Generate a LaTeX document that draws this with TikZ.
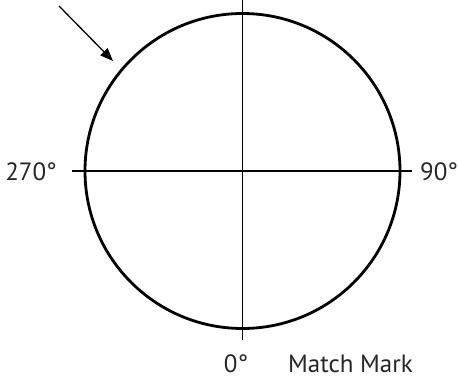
\documentclass[tikz,border=0pt]{standalone}
\usepackage{fontspec}
\setmainfont{PT Sans}
\usetikzlibrary{arrows.meta,positioning}

\begin{document}
\begin{tikzpicture}[x=1pt, y=1pt,
    font=\fontsize{25}{30}\selectfont,
    >={Triangle[length=13pt, width=10pt]},
    rim/.style={draw, black, line width=2.8pt},
    axis/.style={draw, black, line width=1.8pt},
    pointer/.style={->, draw, black, line width=1.3pt},
    lbl/.style={inner sep=0pt, text=black!85}]

\useasboundingbox (0,0) rectangle (458,378);

\coordinate (ctr) at (242.5,207);
\coordinate (top) at (242.5,378);
\coordinate (bot) at (242.5,38);
\coordinate (lft) at (72,207);
\coordinate (rgt) at (412,207);
\coordinate (tail) at (59,372);
\coordinate (hit) at (113,317);

\draw [rim] (ctr) circle (157.5);
\draw [axis] (top) -- (bot);
\draw [axis] (lft) -- (rgt);
\draw [pointer] (tail) -- (hit);

\node [lbl, anchor=base east] (deg270) at (57,197) {270°};
\node [lbl, anchor=base west] (deg90) at (420,197) {90°};
\node [lbl, anchor=base] (deg0) at (236,6) {0°};
\node [lbl, anchor=base west] (mark) at (288,6) {Match Mark};

\end{tikzpicture}
\end{document}
